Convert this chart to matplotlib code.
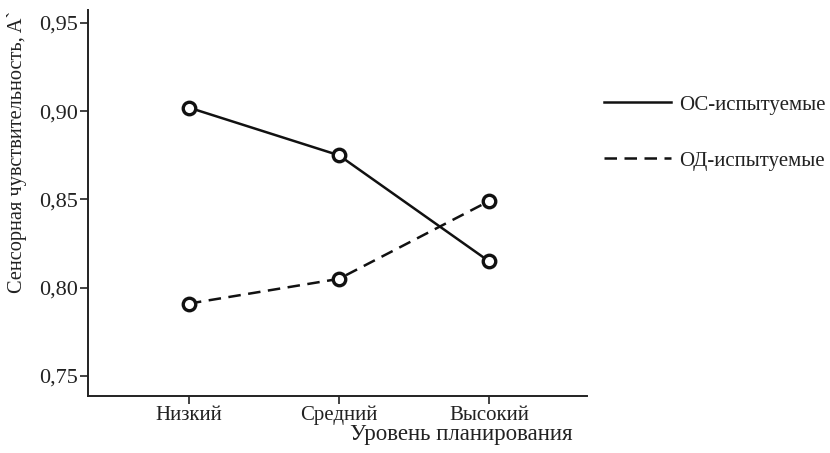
import matplotlib.pyplot as plt

plt.rcParams['font.family'] = ['Liberation Serif', 'DejaVu Serif']

# Data.
categories = ['Низкий', 'Средний', 'Высокий']
os_values = [0.902, 0.875, 0.815]
od_values = [0.791, 0.805, 0.849]
y_ticks = [0.75, 0.80, 0.85, 0.90, 0.95]

fig = plt.figure(figsize=(8.3, 4.53), dpi=100)
ax = fig.add_axes([0.106, 0.126, 0.601, 0.852])

x = range(len(categories))
marker_style = dict(marker='o', markersize=9, markerfacecolor='white',
                    markeredgecolor='#111111', markeredgewidth=2.4)
ax.plot(x, os_values, color='#111111', lw=1.8, ls='-',
        label='ОС-испытуемые', **marker_style)
ax.plot(x, od_values, color='#111111', lw=1.8, ls=(0, (5, 3)),
        label='ОД-испытуемые', **marker_style)

ax.set_xlim(-0.673, 2.653)
ax.set_ylim(0.7387, 0.9573)
ax.set_xticks(list(x))
ax.set_xticklabels(categories, fontsize=15)
ax.set_yticks(y_ticks)
ax.set_yticklabels([f'{v:.2f}'.replace('.', ',') for v in y_ticks], fontsize=16)
ax.tick_params(direction='out', length=6, width=1.2, color='#222222',
               labelcolor='#222222')
ax.tick_params(axis='x', pad=1)
ax.tick_params(axis='y', pad=1)

ax.spines[['top', 'right']].set_visible(False)
ax.spines[['left', 'bottom']].set_linewidth(1.4)
ax.spines[['left', 'bottom']].set_color('#222222')

# Axis titles placed in figure coordinates.
fig.text(461 / 830, 1 - 440 / 453, 'Уровень планирования', fontsize=16.5,
         color='#222222', ha='center', va='baseline')
fig.text(17 / 830, 1 - 152 / 453, 'Сенсорная чувствительность, A`', fontsize=14.7,
         color='#222222', ha='center', va='center', rotation=90)

# Legend outside the axes on the right.
handles, labels = ax.get_legend_handles_labels()
plain = [plt.Line2D([], [], color='#111111', lw=1.8) for _ in handles]
plain[1].set_dashes((5, 3))
fig.legend(plain, labels, loc='upper left', bbox_to_anchor=(604 / 830, 1 - 95 / 453),
           frameon=False, fontsize=15, handlelength=3.2, handletextpad=0.4,
           labelspacing=1.75, borderpad=0, borderaxespad=0, labelcolor='#222222')

plt.savefig('out.png', dpi=100)
